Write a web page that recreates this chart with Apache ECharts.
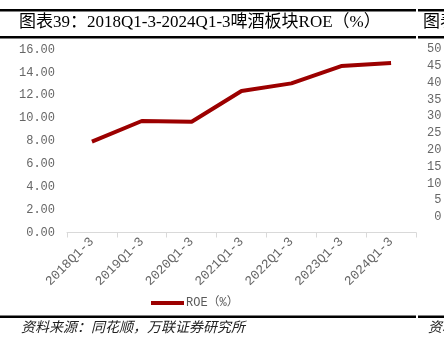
<!DOCTYPE html>
<html>
<head>
<meta charset="utf-8">
<script src="https://cdn.jsdelivr.net/npm/echarts@6/dist/echarts.min.js"></script>
<style>
    * { margin: 0; padding: 0; }
    body { background: #fff; }
    #chart { width: 444px; height: 353px; }
</style>
</head>
<body>
<div id="chart"></div>
<script>
    // 数据
    var categories = ['2018Q1-3', '2019Q1-3', '2020Q1-3', '2021Q1-3', '2022Q1-3', '2023Q1-3', '2024Q1-3'];
    var roeValues = [7.95, 9.75, 9.68, 12.37, 13.04, 14.55, 14.82];
    var leftTicks = [0, 16, 2];     // min, max, interval
    var rightTicks = [0, 50, 5];    // 右侧被截断的图
    var titleText = '图表39：2018Q1-3-2024Q1-3啤酒板块ROE（%）';
    var sourceText = '资料来源：同花顺，万联证券研究所';

    var mono = '"Liberation Mono", "Noto Sans CJK SC", monospace';
    var serif = '"Liberation Serif", "Noto Sans CJK SC", serif';

    var myChart = echarts.init(document.getElementById('chart'));
    var option = {
        animation: false,
        backgroundColor: '#fff',
        grid: [
            { left: 67, right: 28, top: 49.5, bottom: 120.5 },
            { left: 468, width: 100, top: 49, height: 168 }   // 右侧截断的图
        ],
        legend: {
            left: 151,
            top: 297,
            padding: 0,
            icon: 'rect',
            itemWidth: 33,
            itemHeight: 4,
            itemGap: 2,
            textStyle: { fontFamily: mono, fontSize: 12, color: '#595959', padding: [0, 0, 0, -3] },
            data: ['ROE（%）']
        },
        xAxis: [
            {
                type: 'category',
                gridIndex: 0,
                data: categories,
                axisLine: { lineStyle: { color: '#d9d9d9', width: 1 } },
                axisTick: { show: true, length: 5, lineStyle: { color: '#d9d9d9' } },
                axisLabel: { rotate: 45, margin: 7, fontFamily: mono, fontSize: 13, color: '#666' }
            },
            {
                type: 'category',
                gridIndex: 1,
                data: categories,
                show: false
            }
        ],
        yAxis: [
            {
                type: 'value',
                gridIndex: 0,
                min: leftTicks[0],
                max: leftTicks[1],
                interval: leftTicks[2],
                axisLine: { show: false },
                axisTick: { show: false },
                splitLine: { show: false },
                axisLabel: {
                    margin: 12,
                    fontFamily: mono,
                    fontSize: 12,
                    color: '#666',
                    formatter: function (v) { return v.toFixed(2); }
                }
            },
            {
                type: 'value',
                gridIndex: 1,
                min: rightTicks[0],
                max: rightTicks[1],
                interval: rightTicks[2],
                axisLine: { show: false },
                axisTick: { show: false },
                splitLine: { show: false },
                axisLabel: {
                    margin: 5,
                    fontFamily: mono,
                    fontSize: 12,
                    color: '#666',
                    formatter: function (v) { return v.toFixed(2); }
                }
            }
        ],
        series: [
            {
                name: 'ROE（%）',
                type: 'line',
                xAxisIndex: 0,
                yAxisIndex: 0,
                data: roeValues,
                symbol: 'none',
                lineStyle: { color: '#9c0000', width: 4 },
                itemStyle: { color: '#9c0000' }
            }
        ],
        graphic: [
            // 标题上下粗线
            { type: 'rect', shape: { x: 0, y: 9, width: 416, height: 2.5 }, style: { fill: '#000' } },
            { type: 'rect', shape: { x: 418, y: 9, width: 30, height: 2.5 }, style: { fill: '#000' } },
            { type: 'rect', shape: { x: 0, y: 36, width: 416, height: 2.5 }, style: { fill: '#000' } },
            { type: 'rect', shape: { x: 418, y: 36, width: 30, height: 2.5 }, style: { fill: '#000' } },
            {
                type: 'text', left: 19, top: 14,
                style: { text: titleText, font: '17px ' + serif, fill: '#000' }
            },
            {
                type: 'text', left: 423, top: 14,
                style: { text: '图表', font: '17px ' + serif, fill: '#000' }
            },
            // 底部粗线
            { type: 'rect', shape: { x: 0, y: 315.5, width: 416, height: 2.5 }, style: { fill: '#000' } },
            { type: 'rect', shape: { x: 418, y: 315.5, width: 30, height: 2.5 }, style: { fill: '#000' } },
            {
                type: 'text', left: 21, top: 320,
                style: { text: sourceText, font: 'italic 14px "Noto Sans CJK SC", sans-serif', fill: '#222' }
            },
            {
                type: 'text', left: 428, top: 320,
                style: { text: '资料', font: 'italic 14px "Noto Sans CJK SC", sans-serif', fill: '#222' }
            }
        ]
    };
    myChart.setOption(option);
</script>
</body>
</html>
